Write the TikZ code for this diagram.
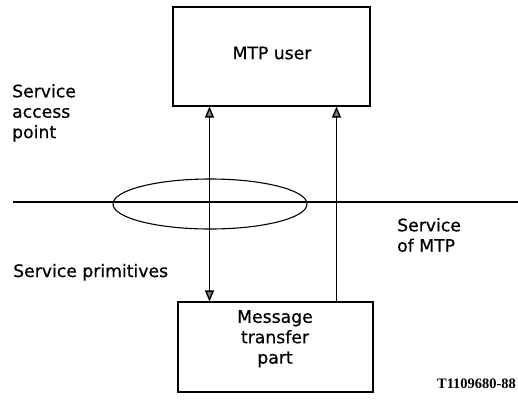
\documentclass[tikz,border=0pt]{standalone}
\usepackage{fontspec}
\setmainfont{DejaVu Sans}[FakeBold=0.6]
\newfontfamily\codefont{Liberation Serif}
\usetikzlibrary{arrows.meta,shapes.geometric}
\begin{document}
\begin{tikzpicture}[x=1bp,y=-1bp,
  every node/.style={inner sep=0pt},
  lbl/.style={font=\fontsize{17.3}{20.5}\selectfont, align=left},
  blk/.style={draw, line width=1.1pt},
  conn/.style={line width=1.1pt},
  hd/.tip={Triangle[length=11bp,width=9bp,line width=1.4pt,fill=gray]}
]
\useasboundingbox (0,0) rectangle (518,403);
% boxes
\node[blk, minimum width=197bp, minimum height=99bp] (user) at (271.5,56.5) {};
\node[lbl, align=center] (usertext) at (272,53) {MTP user};
\node[blk, minimum width=195bp, minimum height=90bp] (mtp) at (275.5,347) {};
\node[lbl, align=center, anchor=north] (mtptext) at (275,310) {Message\\transfer\\part};
% service boundary
\coordinate (hl) at (13,202);
\coordinate (hr) at (518,202);
\draw[conn] (hl) -- (hr);
\node[draw, conn, ellipse, minimum width=194bp, minimum height=50bp] (sap) at (210,204) {};
% connectors
\coordinate (la) at (user.south -| 209.5,0);
\coordinate (lb) at (mtp.north -| 209.5,0);
\coordinate (ra) at (user.south -| 336.5,0);
\coordinate (rb) at (mtp.north -| 336.5,0);
\draw[conn, hd-hd] (la) -- (lb);
\draw[conn, -hd] (rb) -- (ra);
% labels
\node[lbl, anchor=north west] (saplbl) at (12,84) {Service\\access\\point};
\node[lbl, anchor=north west] (svclbl) at (397,218) {Service\\of MTP};
\node[lbl, anchor=base west] (primlbl) at (13,277) {Service primitives};
\node[anchor=base east, font=\codefont\bfseries\fontsize{14.5}{16}\selectfont] (code) at (516,388) {T1109680-88};
\end{tikzpicture}
\end{document}
